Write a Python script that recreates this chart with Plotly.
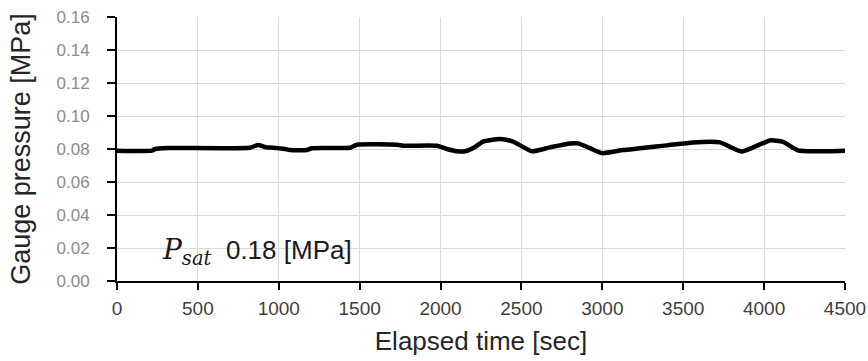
import plotly.graph_objects as go

time_sec = [0, 216, 235, 315, 822, 872, 921, 964, 1038, 1069, 1174, 1205, 1440, 1483, 1731, 1768,
            1978, 2040, 2102, 2151, 2213, 2262, 2367, 2448, 2565, 2676, 2800, 2850, 2924, 2998,
            3128, 3233, 3400, 3560, 3727, 3863, 4036, 4117, 4209, 4327, 4500]
pressure_mpa = [0.079, 0.079, 0.080, 0.0806, 0.0808, 0.0824, 0.081, 0.0808, 0.080, 0.0794, 0.0794,
                0.0805, 0.0808, 0.0826, 0.0826, 0.082, 0.082, 0.080, 0.0786, 0.0786, 0.0812,
                0.0845, 0.0860, 0.0845, 0.0786, 0.0810, 0.0834, 0.0834, 0.0805, 0.0775, 0.0794,
                0.0804, 0.0822, 0.0840, 0.0840, 0.0785, 0.0852, 0.0843, 0.0792, 0.0786, 0.0790]

x_ticks = [0, 500, 1000, 1500, 2000, 2500, 3000, 3500, 4000, 4500]
y_ticks = [0.00, 0.02, 0.04, 0.06, 0.08, 0.10, 0.12, 0.14, 0.16]

fig = go.Figure()
fig.add_trace(go.Scatter(x=time_sec, y=pressure_mpa, mode="lines",
                         line=dict(color="black", width=4.5, shape="spline", smoothing=0.5),
                         showlegend=False))

fig.add_annotation(x=265, y=0.018, xref="x", yref="y", xanchor="left", yanchor="middle",
                   text="<span style='font-family:\"DejaVu Serif\", serif;font-style:italic;font-size:28px'>P</span>"
                        "<span style='font-family:\"DejaVu Serif\", serif;font-style:italic;font-size:28px'><sub>sat</sub></span>"
                        "  0.18 [MPa]",
                   showarrow=False, font=dict(family="Liberation Sans, Arial, sans-serif", size=26, color="#1a1a1a"))

fig.update_layout(
    width=868, height=361,
    margin=dict(l=117, r=23, t=17, b=80),
    plot_bgcolor="white", paper_bgcolor="white",
    font=dict(family="Liberation Sans, Arial, sans-serif"),
)
fig.update_xaxes(range=[0, 4500], tickvals=x_ticks, ticktext=[str(v) for v in x_ticks],
                 showgrid=True, gridcolor="#d9d9d9", gridwidth=1,
                 showline=True, linecolor="black", linewidth=2,
                 ticks="outside", ticklen=7, tickwidth=2, tickcolor="black",
                 tickfont=dict(size=19, color="#404040"), ticklabelstandoff=2,
                 ticklabeloverflow="allow",
                 title=dict(text="Elapsed time [sec]", font=dict(size=26, color="#262626"), standoff=14),
                 zeroline=False, automargin=False)
fig.update_yaxes(range=[0, 0.16], tickvals=y_ticks, ticktext=[f"{v:.2f}" for v in y_ticks],
                 showgrid=True, gridcolor="#d9d9d9", gridwidth=1,
                 showline=True, linecolor="black", linewidth=2,
                 ticks="outside", ticklen=8, tickwidth=2, tickcolor="black",
                 tickfont=dict(size=17, color="#8c8c8c"), ticklabelstandoff=14,
                 ticklabeloverflow="allow",
                 title=dict(text="Gauge pressure [MPa]", font=dict(size=27, color="#262626"), standoff=18),
                 zeroline=False, automargin=False)

fig.write_html("out.html", config={"displayModeBar": False},
               post_script="document.body.style.margin='0';document.documentElement.style.overflow='hidden';document.body.style.overflow='hidden';")
